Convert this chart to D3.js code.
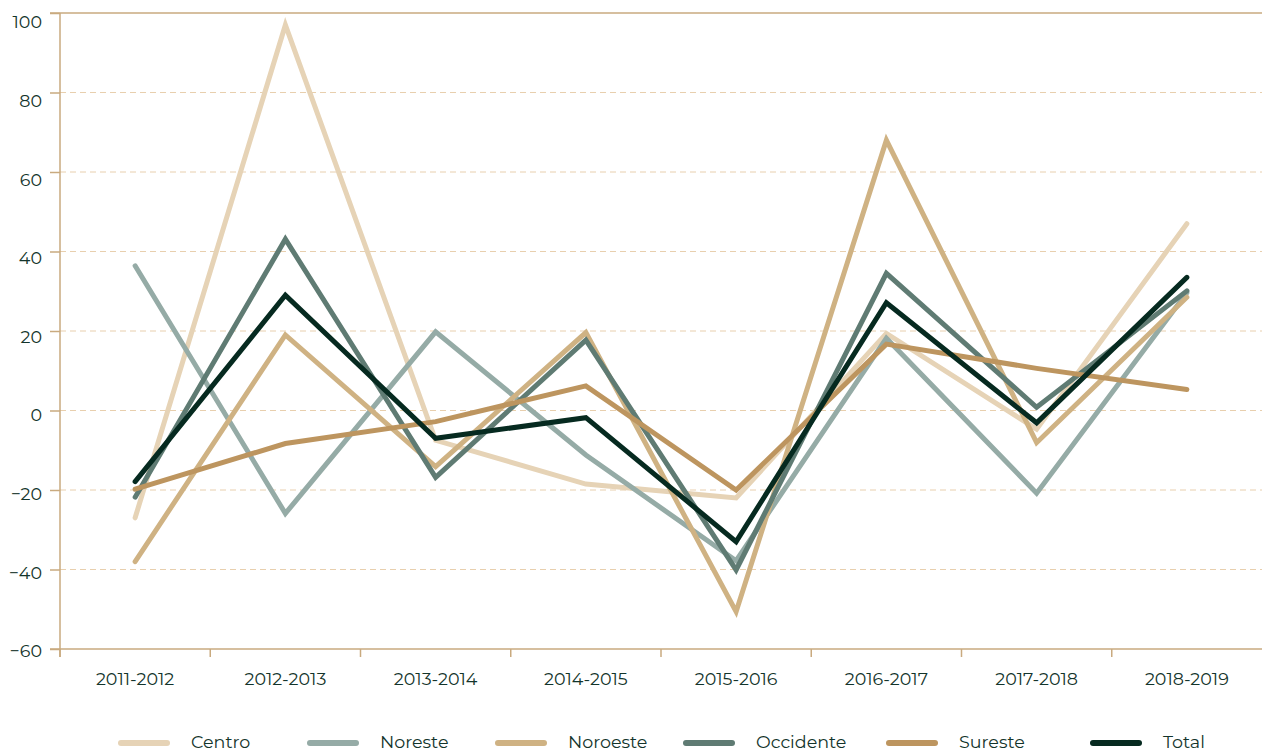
<!DOCTYPE html>
<html>
<head>
<meta charset="utf-8">
<script src="https://cdn.jsdelivr.net/npm/d3@7"></script>
<style>
  body { margin: 0; background: #fff; }
  svg text { font-family: Montserrat, "Noto Sans", sans-serif; fill: #13342b; }
</style>
</head>
<body>
<div id="chart"></div>
<script>
// periodos
let categories = ['2011-2012', '2012-2013', '2013-2014', '2014-2015', '2015-2016', '2016-2017', '2017-2018', '2018-2019'];
let yTicks = [100, 80, 60, 40, 20, 0, -20, -40, -60];

let centro    = [-27, 97, -7.5, -18.5, -22, 19.4, -4.7, 47];
let noreste   = [36.4, -25.9, 19.8, -11.2, -37.8, 18.2, -20.8, 29.6];
let noroeste  = [-38, 19, -14.1, 19.6, -50.6, 68, -8.1, 28.5];
let occidente = [-21.8, 43.1, -16.8, 17.7, -40.1, 34.5, 0.8, 30.1];
let sureste   = [-19.8, -8.3, -2.8, 6.2, -20, 16.7, 10.6, 5.3];
let total     = [-17.9, 29, -7, -1.8, -33, 27.1, -3.1, 33.5];

let seriesNames = ['Centro', 'Noreste', 'Noroeste', 'Occidente', 'Sureste', 'Total'];
let seriesValues = [centro, noreste, noroeste, occidente, sureste, total];
let colors = ['#e6d3b6', '#95aba6', '#cfb283', '#5f7b73', '#bd955f', '#062a20'];

let width = 1262, height = 751;
let margin = {left: 60, right: 0, top: 13, bottom: 102};
// posiciones de la leyenda (no uniformes en el original)
let legendX = [118, 307, 495, 683, 886, 1090];

let $svg = d3.select('#chart').append('svg')
    .attr('width', width)
    .attr('height', height);

let x = d3.scaleBand()
    .domain(categories)
    .range([margin.left, width - margin.right]);
let y = d3.scaleLinear()
    .domain([-60, 100])
    .range([height - margin.bottom, margin.top]);

let axisColor = '#c9aa7f';

// rejilla
$svg.append('g')
    .selectAll('line')
    .data(yTicks.filter(d => d > -60 && d < 100))
    .join('line')
    .attr('x1', margin.left).attr('x2', width - margin.right)
    .attr('y1', d => y(d)).attr('y2', d => y(d))
    .attr('stroke', '#e8cfae')
    .attr('stroke-width', 1)
    .attr('stroke-dasharray', '6,4');

// linea superior
$svg.append('line')
    .attr('x1', margin.left - 10).attr('x2', width - margin.right)
    .attr('y1', y(100)).attr('y2', y(100))
    .attr('stroke', axisColor).attr('stroke-width', 1.5);

// eje y (las etiquetas bajan un poco más arriba, como en el original)
let labelShift = d3.scaleLinear().domain([-60, 100]).range([1.5, 8.5]);
let $yAxis = $svg.append('g')
    .attr('transform', `translate(${margin.left},0)`)
    .call(d3.axisLeft(y).tickValues(yTicks).tickSize(10).tickPadding(8).tickFormat(d3.format('d')));
$yAxis.select('.domain').remove();
$yAxis.selectAll('.tick line').attr('stroke', axisColor).attr('stroke-width', 1.5);
$yAxis.selectAll('.tick text')
    .attr('font-size', 17.5)
    .attr('dy', '0.36em')
    .attr('y', d => labelShift(d))
    .attr('x', -18);
$svg.append('line')
    .attr('x1', margin.left).attr('x2', margin.left)
    .attr('y1', y(100)).attr('y2', y(-60) + 8)
    .attr('stroke', axisColor).attr('stroke-width', 1.5);

// eje x
let $xAxis = $svg.append('g')
    .attr('transform', `translate(0,${y(-60)})`)
    .call(d3.axisBottom(x).tickSize(0).tickPadding(24));
$xAxis.select('.domain')
    .attr('stroke', axisColor).attr('stroke-width', 1.5)
    .attr('d', `M${margin.left - 10},0H${width - margin.right}`);
$xAxis.selectAll('.tick text').attr('font-size', 17.5).attr('fill', '#13342b');
$svg.append('g')
    .selectAll('line')
    .data(categories)
    .join('line')
    .attr('x1', d => x(d)).attr('x2', d => x(d))
    .attr('y1', y(-60)).attr('y2', y(-60) + 8)
    .attr('stroke', axisColor).attr('stroke-width', 1.5);

// lineas
let line = d3.line()
    .x((d, i) => x(categories[i]) + x.bandwidth() / 2)
    .y(d => y(d));

$svg.append('g')
    .selectAll('path')
    .data(seriesValues)
    .join('path')
    .attr('d', d => line(d))
    .attr('fill', 'none')
    .attr('stroke', (d, i) => colors[i])
    .attr('stroke-width', 5)
    .attr('stroke-linejoin', 'miter')
    .attr('stroke-linecap', 'round');

// leyenda
let $legend = $svg.append('g');
let $items = $legend.selectAll('g')
    .data(seriesNames)
    .join('g')
    .attr('transform', (d, i) => `translate(${legendX[i]},743)`);
$items.append('line')
    .attr('x1', 3).attr('x2', 49)
    .attr('stroke', (d, i) => colors[i])
    .attr('stroke-width', 6)
    .attr('stroke-linecap', 'round');
$items.append('text')
    .attr('x', 73)
    .attr('y', 5)
    .attr('font-size', 17.5)
    .text(d => d);
</script>
</body>
</html>
